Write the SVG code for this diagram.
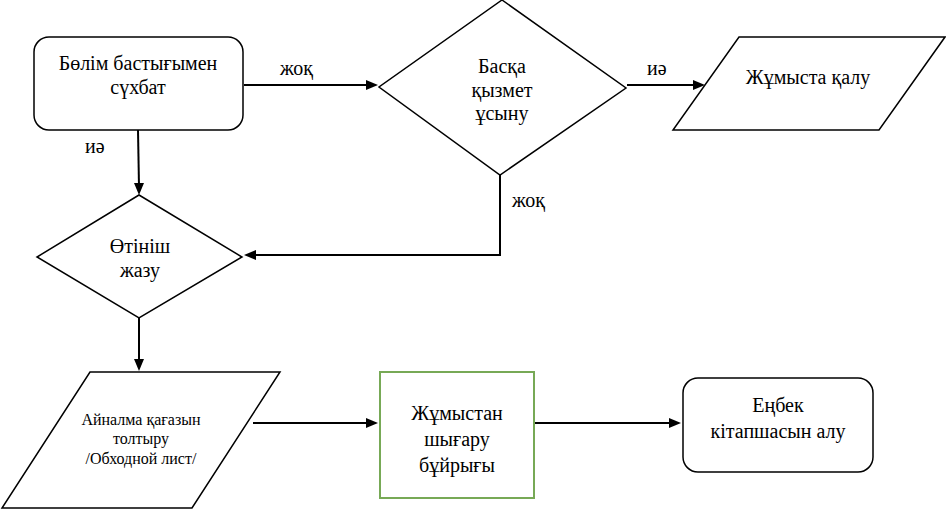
<svg xmlns="http://www.w3.org/2000/svg" width="946" height="510" viewBox="0 0 946 510">
<style>
.s{fill:#fff;stroke:#000;stroke-width:1.5}
.g{fill:#fff;stroke:#77a956;stroke-width:2}
.t{font-size:20px;text-anchor:middle;fill:#000}
.ts{font-size:16px;text-anchor:middle;fill:#000}
.l{font-size:20px;fill:#000}
.c{fill:none;stroke:#000;stroke-width:2}
.a{fill:#000;stroke:none}
</style>
<rect width="946" height="510" fill="#fff"/>
<g id="connectors">
<line class="c" x1="244" y1="85" x2="370" y2="85"/>
<polygon class="a" points="366,80 378,85 366,90"/>
<line class="c" x1="627" y1="85" x2="697" y2="85"/>
<polygon class="a" points="693,80 705,85 693,90"/>
<polyline class="c" points="500,175 500,255 252,255"/>
<polygon class="a" points="256,250 244,255 256,260"/>
<line class="c" x1="138" y1="130" x2="139" y2="187"/>
<polygon class="a" points="134,183 139,195 144,183"/>
<line class="c" x1="139" y1="318" x2="139" y2="363"/>
<polygon class="a" points="134,359 139,371 144,359"/>
<line class="c" x1="253" y1="423" x2="370" y2="423"/>
<polygon class="a" points="366,418 378,423 366,428"/>
<line class="c" x1="535" y1="423" x2="673" y2="423"/>
<polygon class="a" points="669,418 681,423 669,428"/>
</g>
<text class="l" x="280" y="75" style="font-family:'Liberation Serif',serif">жоқ</text>
<text class="l" x="647" y="75" style="font-family:'Liberation Serif',serif">иә</text>
<text class="l" x="85" y="153" style="font-family:'Liberation Serif',serif">иә</text>
<text class="l" x="512" y="207" style="font-family:'Liberation Serif',serif">жоқ</text>
<g id="n1">
<rect class="s" x="34" y="37" width="209" height="93" rx="15"/>
</g>
<text class="t" x="138" y="70" style="font-family:'Liberation Serif',serif">Бөлім бастығымен</text>
<text class="t" x="138" y="94" style="font-family:'Liberation Serif',serif">сүхбат</text>
<g id="n2">
<polygon class="s" points="502,0 626,88 500,175 379,87"/>
</g>
<text class="t" x="502" y="73" style="font-family:'Liberation Serif',serif">Басқа</text>
<text class="t" x="502" y="97" style="font-family:'Liberation Serif',serif">қызмет</text>
<text class="t" x="502" y="120" style="font-family:'Liberation Serif',serif">ұсыну</text>
<g id="n3">
<polygon class="s" points="739,37 945,37 879,130 673,130"/>
</g>
<text class="t" x="808" y="84" style="font-family:'Liberation Serif',serif">Жұмыста қалу</text>
<g id="n4">
<polygon class="s" points="139,195 242,257 139,318 37,257"/>
</g>
<text class="t" x="140" y="253" style="font-family:'Liberation Serif',serif">Өтініш</text>
<text class="t" x="140" y="277" style="font-family:'Liberation Serif',serif">жазу</text>
<g id="n5">
<polygon class="s" points="90,372 280,372 192,508 2,508"/>
</g>
<text class="ts" x="141" y="425" style="font-family:'Liberation Serif',serif">Айналма қағазын</text>
<text class="ts" x="141" y="444" style="font-family:'Liberation Serif',serif">толтыру</text>
<text class="ts" x="141" y="464" style="font-family:'Liberation Serif',serif">/Обходной лист/</text>
<g id="n6">
<rect class="g" x="380" y="372" width="154" height="126"/>
</g>
<text class="t" x="457" y="420" style="font-family:'Liberation Serif',serif">Жұмыстан</text>
<text class="t" x="457" y="446" style="font-family:'Liberation Serif',serif">шығару</text>
<text class="t" x="457" y="472" style="font-family:'Liberation Serif',serif">бұйрығы</text>
<g id="n7">
<rect class="s" x="683" y="378" width="190" height="94" rx="15"/>
</g>
<text class="t" x="778" y="412" style="font-family:'Liberation Serif',serif">Еңбек</text>
<text class="t" x="778" y="438" style="font-family:'Liberation Serif',serif">кітапшасын алу</text>
</svg>
